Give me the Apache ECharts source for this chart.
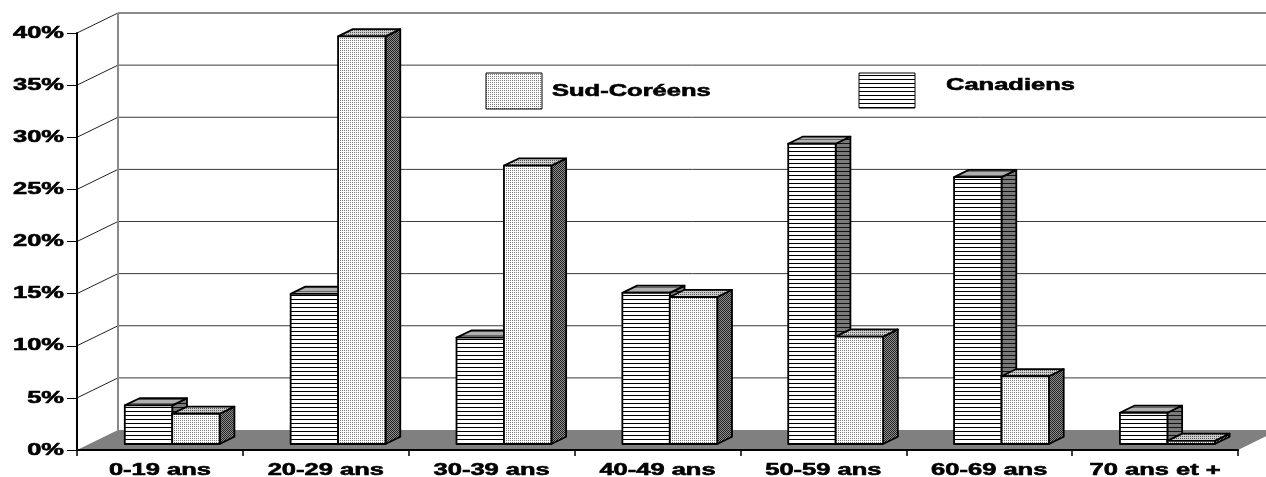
<!DOCTYPE html>
<html>
<head>
<meta charset="utf-8">
<script src="https://cdn.jsdelivr.net/npm/echarts@6/dist/echarts.min.js"></script>
<style>
  html, body { margin: 0; padding: 0; background: #fff; }
  #chart { width: 1266px; height: 477px; }
</style>
</head>
<body>
<div id="chart"></div>
<script>
const categories = ['0-19 ans', '20-29 ans', '30-39 ans', '40-49 ans', '50-59 ans', '60-69 ans', '70 ans et +'];
const canadiens = [3.7, 14.4, 10.2, 14.5, 28.8, 25.6, 3.0];
const sudCoreens = [2.9, 39.1, 26.7, 14.1, 10.3, 6.5, 0.3];
const yTicks = [0, 5, 10, 15, 20, 25, 30, 35, 40];
const seriesNames = ['Canadiens', 'Sud-Coréens'];

// pseudo 3d look
const DEPTH = [41, -20];
const BAR_FRONT = 0.3;
const BAR_BACK = 0.66;
const BAR_WIDTH = 0.286;
const FONT = 'bold 17px "Liberation Sans", Arial, sans-serif';
const STRETCH = 1.5;

const makePattern = (w, h, bg, fg, cells) => {
  const c = document.createElement('canvas');
  c.width = w;
  c.height = h;
  const ctx = c.getContext('2d');
  ctx.fillStyle = bg;
  ctx.fillRect(0, 0, w, h);
  ctx.fillStyle = fg;
  cells.forEach(([x, y, cw, ch]) => ctx.fillRect(x, y, cw, ch));
  return { image: c, repeat: 'repeat' };
};

const stripeFront = makePattern(4, 4, '#ffffff', '#000000', [[0, 3, 4, 1]]);
const stripeSide = makePattern(4, 4, '#7a7a7a', '#111111', [[0, 3, 4, 1]]);
const stripeTop = makePattern(4, 4, '#b0b0b0', '#666666', [[0, 3, 4, 1]]);
const dotFront = makePattern(2, 2, '#ffffff', '#7a7a7a', [[0, 0, 1, 1]]);
const dotSide = makePattern(2, 2, '#8e8e8e', '#222222', [[0, 0, 1, 1], [1, 1, 1, 1]]);
const dotTop = makePattern(2, 2, '#cccccc', '#555555', [[0, 0, 1, 1]]);

const faces = [
  { front: stripeFront, side: stripeSide, top: stripeTop },
  { front: dotFront, side: dotSide, top: dotTop },
];

const renderFrame = (params, api) => {
  const o = api.coord([0, 0]);
  const cw = api.size([1, 0])[0];
  const x0 = o[0] - cw / 2;
  const x1 = x0 + cw * categories.length;
  const y0 = o[1];
  const [dx, dy] = DEPTH;
  const children = [{
    type: 'polygon',
    shape: { points: [[x0, y0], [x1, y0], [x1 + dx, y0 + dy], [x0 + dx, y0 + dy]] },
    style: { fill: '#808080' },
  }];
  yTicks.forEach((v) => {
    if (v === 0) return;
    const y = api.coord([0, v])[1];
    const top = v === yTicks[yTicks.length - 1];
    children.push({
      type: 'line',
      shape: { x1: x0 + dx, y1: y + dy, x2: x1 + dx, y2: y + dy },
      style: { stroke: top ? '#8a8a8a' : '#3a3a3a', lineWidth: top ? 2 : 1 },
    });
    children.push({
      type: 'line',
      shape: { x1: x0, y1: y, x2: x0 + dx, y2: y + dy },
      style: { stroke: '#222', lineWidth: 1 },
    });
  });
  const yTop = api.coord([0, yTicks[yTicks.length - 1]])[1];
  children.push({
    type: 'line',
    shape: { x1: x0 + dx, y1: yTop + dy, x2: x0 + dx, y2: y0 + dy },
    style: { stroke: '#8a8a8a', lineWidth: 2 },
  });
  return { type: 'group', children };
};

const makeBarRenderer = (side) => (params, api) => {
  const idx = api.value(0);
  const base = api.coord([idx, 0]);
  const top = api.coord([idx, api.value(1)]);
  const cw = api.size([1, 0])[0];
  const bw = cw * BAR_WIDTH;
  const fx = base[0] + DEPTH[0] * BAR_FRONT + (side === 0 ? -bw : 0);
  const fy0 = base[1] + DEPTH[1] * BAR_FRONT;
  const h = Math.max(base[1] - top[1], 1);
  const fy1 = fy0 - h;
  const dx = DEPTH[0] * (BAR_BACK - BAR_FRONT);
  const dy = DEPTH[1] * (BAR_BACK - BAR_FRONT);
  const f = faces[side];
  const edge = { stroke: '#000', lineWidth: 1.8, lineJoin: 'round' };
  return {
    type: 'group',
    children: [
      {
        type: 'polygon',
        shape: { points: [[fx + bw, fy0], [fx + bw + dx, fy0 + dy], [fx + bw + dx, fy1 + dy], [fx + bw, fy1]] },
        style: { fill: f.side, ...edge },
      },
      {
        type: 'polygon',
        shape: { points: [[fx, fy1], [fx + bw, fy1], [fx + bw + dx, fy1 + dy], [fx + dx, fy1 + dy]] },
        style: { fill: f.top, ...edge },
      },
      {
        type: 'rect',
        shape: { x: fx, y: fy1, width: bw, height: h },
        style: { fill: f.front, ...edge },
      },
    ],
  };
};

const textStyle = (text, align) => ({
  text, x: 0, y: 0, font: FONT, fill: '#000', stroke: '#000', lineWidth: 0.6,
  textAlign: align, textVerticalAlign: 'middle',
});

const stretchedText = (text, x, y, align) => ({
  type: 'text', x, y, scaleX: STRETCH, style: textStyle(text, align),
});

const renderXLabel = (params, api) => {
  const p = api.coord([api.value(0), 0]);
  return stretchedText(categories[params.dataIndex], p[0], p[1] + 20, 'center');
};

const renderYLabel = (params, api) => {
  const p = api.coord([0, api.value(1)]);
  const cw = api.size([1, 0])[0];
  return stretchedText(api.value(1) + '%', p[0] - cw / 2 - 13, p[1], 'right');
};

const chart = echarts.init(document.getElementById('chart'));
chart.setOption({
  animation: false,
  backgroundColor: '#fff',
  grid: { left: 77, right: 28, top: 33, bottom: 27, containLabel: false, outerBoundsMode: 'none' },
  xAxis: {
    type: 'category',
    data: categories,
    z: 10,
    axisLine: { lineStyle: { color: '#000', width: 2 } },
    axisTick: { show: true, length: 6, lineStyle: { color: '#000', width: 1.5 } },
    axisLabel: { show: false },
    splitLine: { show: false },
  },
  yAxis: {
    type: 'value',
    min: 0,
    max: 40,
    interval: 5,
    z: 10,
    axisLine: { show: true, lineStyle: { color: '#000', width: 2 } },
    axisTick: { show: true, length: 10, lineStyle: { color: '#000', width: 1 } },
    axisLabel: { show: false },
    splitLine: { show: false },
  },
  graphic: [
    { type: 'rect', shape: { x: 486, y: 73, width: 56, height: 36 }, style: { fill: dotFront, stroke: '#000', lineWidth: 1 } },
    { type: 'text', x: 552, y: 91, scaleX: STRETCH, style: textStyle(seriesNames[1], 'left') },
    { type: 'rect', shape: { x: 859, y: 73, width: 56, height: 35 }, style: { fill: stripeFront, stroke: '#000', lineWidth: 1 } },
    { type: 'text', x: 946, y: 85, scaleX: STRETCH, style: textStyle(seriesNames[0], 'left') },
  ],
  series: [
    { type: 'custom', name: 'frame', z: 1, silent: true, data: [[0, 0]], renderItem: renderFrame },
    { type: 'custom', name: seriesNames[0], z: 3, data: canadiens.map((v, i) => [i, v]), encode: { x: 0, y: 1 }, renderItem: makeBarRenderer(0) },
    { type: 'custom', name: seriesNames[1], z: 4, data: sudCoreens.map((v, i) => [i, v]), encode: { x: 0, y: 1 }, renderItem: makeBarRenderer(1) },
    { type: 'custom', name: 'xlabels', z: 5, silent: true, data: categories.map((c, i) => [i, 0]), renderItem: renderXLabel },
    { type: 'custom', name: 'ylabels', z: 5, silent: true, data: yTicks.map((v) => [0, v]), renderItem: renderYLabel },
  ],
});
</script>
</body>
</html>
